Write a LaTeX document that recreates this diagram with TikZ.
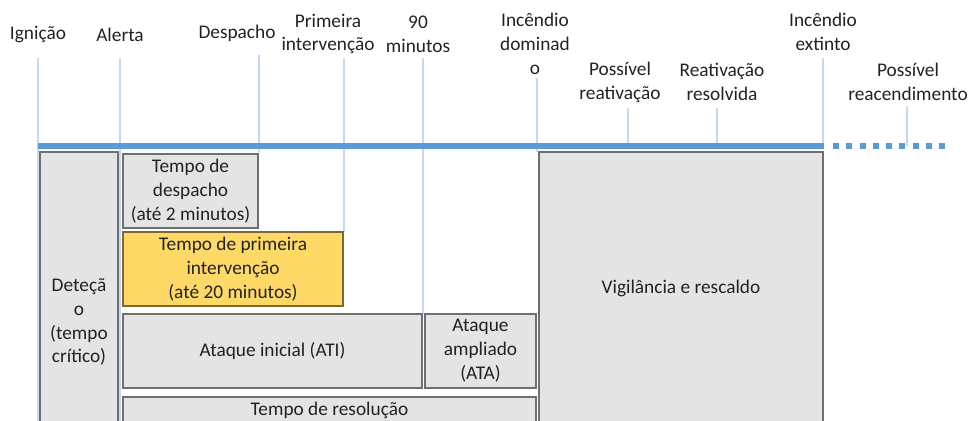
\documentclass[tikz,border=0pt]{standalone}
\usepackage{fontspec}
\setmainfont{Carlito}
\usepackage{tikz}

\definecolor{barblue}{HTML}{5B9BD5}
\definecolor{tickblue}{HTML}{C5DAF0}
\definecolor{boxgray}{HTML}{E4E4E4}
\definecolor{edgegray}{HTML}{6F6F6F}
\definecolor{gold}{HTML}{FFD966}
\definecolor{goldedge}{HTML}{7A6A3A}
\definecolor{txt}{HTML}{222222}

\begin{document}
\begin{tikzpicture}[x=0.02cm, y=-0.02cm,
	every node/.style={font=\fontsize{11pt}{13.6pt}\selectfont, text=txt, align=center},
	tick/.style={draw=tickblue, line width=0.6pt},
	bar/.style={draw=barblue, line width=0.12cm},
	phase/.style={rectangle, draw=edgegray, fill=boxgray, line width=0.9pt, inner sep=0pt}]
	\useasboundingbox (0,0) rectangle (971,421);
	\clip (0,0) rectangle (971,421);

	% marcos do tempo
	\node (ign) at (38,35) {Ignição};
	\node (alert) at (120,35) {Alerta};
	\node (desp) at (237,33) {Despacho};
	\node (prim) at (328,34) {Primeira\\intervenção};
	\node (min90) at (418,34) {90\\minutos};
	\node (dom) at (535,44) {Incêndio\\dominad\\o};
	\node (posreat) at (620,82) {Possível\\reativação};
	\node (reatres) at (722,82) {Reativação\\resolvida};
	\node (ext) at (823,32) {Incêndio\\extinto};
	\node (posreac) at (908,82) {Possível\\reacendimento};

	\coordinate (ign-t) at (38,58);     \coordinate (ign-b) at (38,421);
	\coordinate (alert-t) at (120,58);  \coordinate (alert-b) at (120,421);
	\coordinate (desp-t) at (259,55);   \coordinate (desp-b) at (259,152);
	\coordinate (prim-t) at (344,58);   \coordinate (prim-b) at (344,232);
	\coordinate (min90-t) at (423,58);  \coordinate (min90-b) at (423,314);
	\coordinate (dom-t) at (537,78);    \coordinate (dom-b) at (537,152);
	\coordinate (posreat-t) at (628,108); \coordinate (posreat-b) at (628,146);
	\coordinate (reatres-t) at (717,108); \coordinate (reatres-b) at (717,146);
	\coordinate (ext-t) at (823,58);    \coordinate (ext-b) at (823,146);
	\coordinate (posreac-t) at (907,106); \coordinate (posreac-b) at (907,146);

	\draw[tick] (ign-t) -- (ign-b);
	\draw[tick] (alert-t) -- (alert-b);
	\draw[tick] (desp-t) -- (desp-b);
	\draw[tick] (prim-t) -- (prim-b);
	\draw[tick] (min90-t) -- (min90-b);
	\draw[tick] (dom-t) -- (dom-b);
	\draw[tick] (posreat-t) -- (posreat-b);
	\draw[tick] (reatres-t) -- (reatres-b);
	\draw[tick] (ext-t) -- (ext-b);
	\draw[tick] (posreac-t) -- (posreac-b);

	% linha do tempo
	\coordinate (tl-start) at (38,146);
	\coordinate (tl-end) at (824,146);
	\coordinate (tl-dots) at (833,146);
	\coordinate (tl-far) at (947,146);
	\draw[bar] (tl-start) -- (tl-end);
	\draw[bar, dash pattern=on 0.12cm off 0.146cm] (tl-dots) -- (tl-far);

	% fases
	\node[phase, minimum width=1.56cm, minimum height=6.8cm] (detec) at (79,322) {Deteçã\\o\\(tempo\\crítico)};
	\node[phase, minimum width=2.7cm, minimum height=1.48cm] (tdesp) at (190.5,191) {Tempo de\\despacho\\(até 2 minutos)};
	\node[phase, fill=gold, draw=goldedge, minimum width=4.4cm, minimum height=1.48cm] (tprim) at (233,269) {Tempo de primeira\\intervenção\\(até 20 minutos)};
	\node[phase, minimum width=5.98cm, minimum height=1.48cm] (ati) at (272.5,351) {Ataque inicial (ATI)};
	\node[phase, minimum width=2.22cm, minimum height=1.48cm] (ata) at (480.5,351) {Ataque\\ampliado\\(ATA)};
	\node[phase, anchor=north, minimum width=8.26cm, inner ysep=0.1cm, text depth=1.2cm] (tres) at (329.5,396) {Tempo de resolução};
	\node[phase, minimum width=5.68cm, minimum height=5.44cm] (vig) at (681,288) {Vigilância e rescaldo};
\end{tikzpicture}
\end{document}
